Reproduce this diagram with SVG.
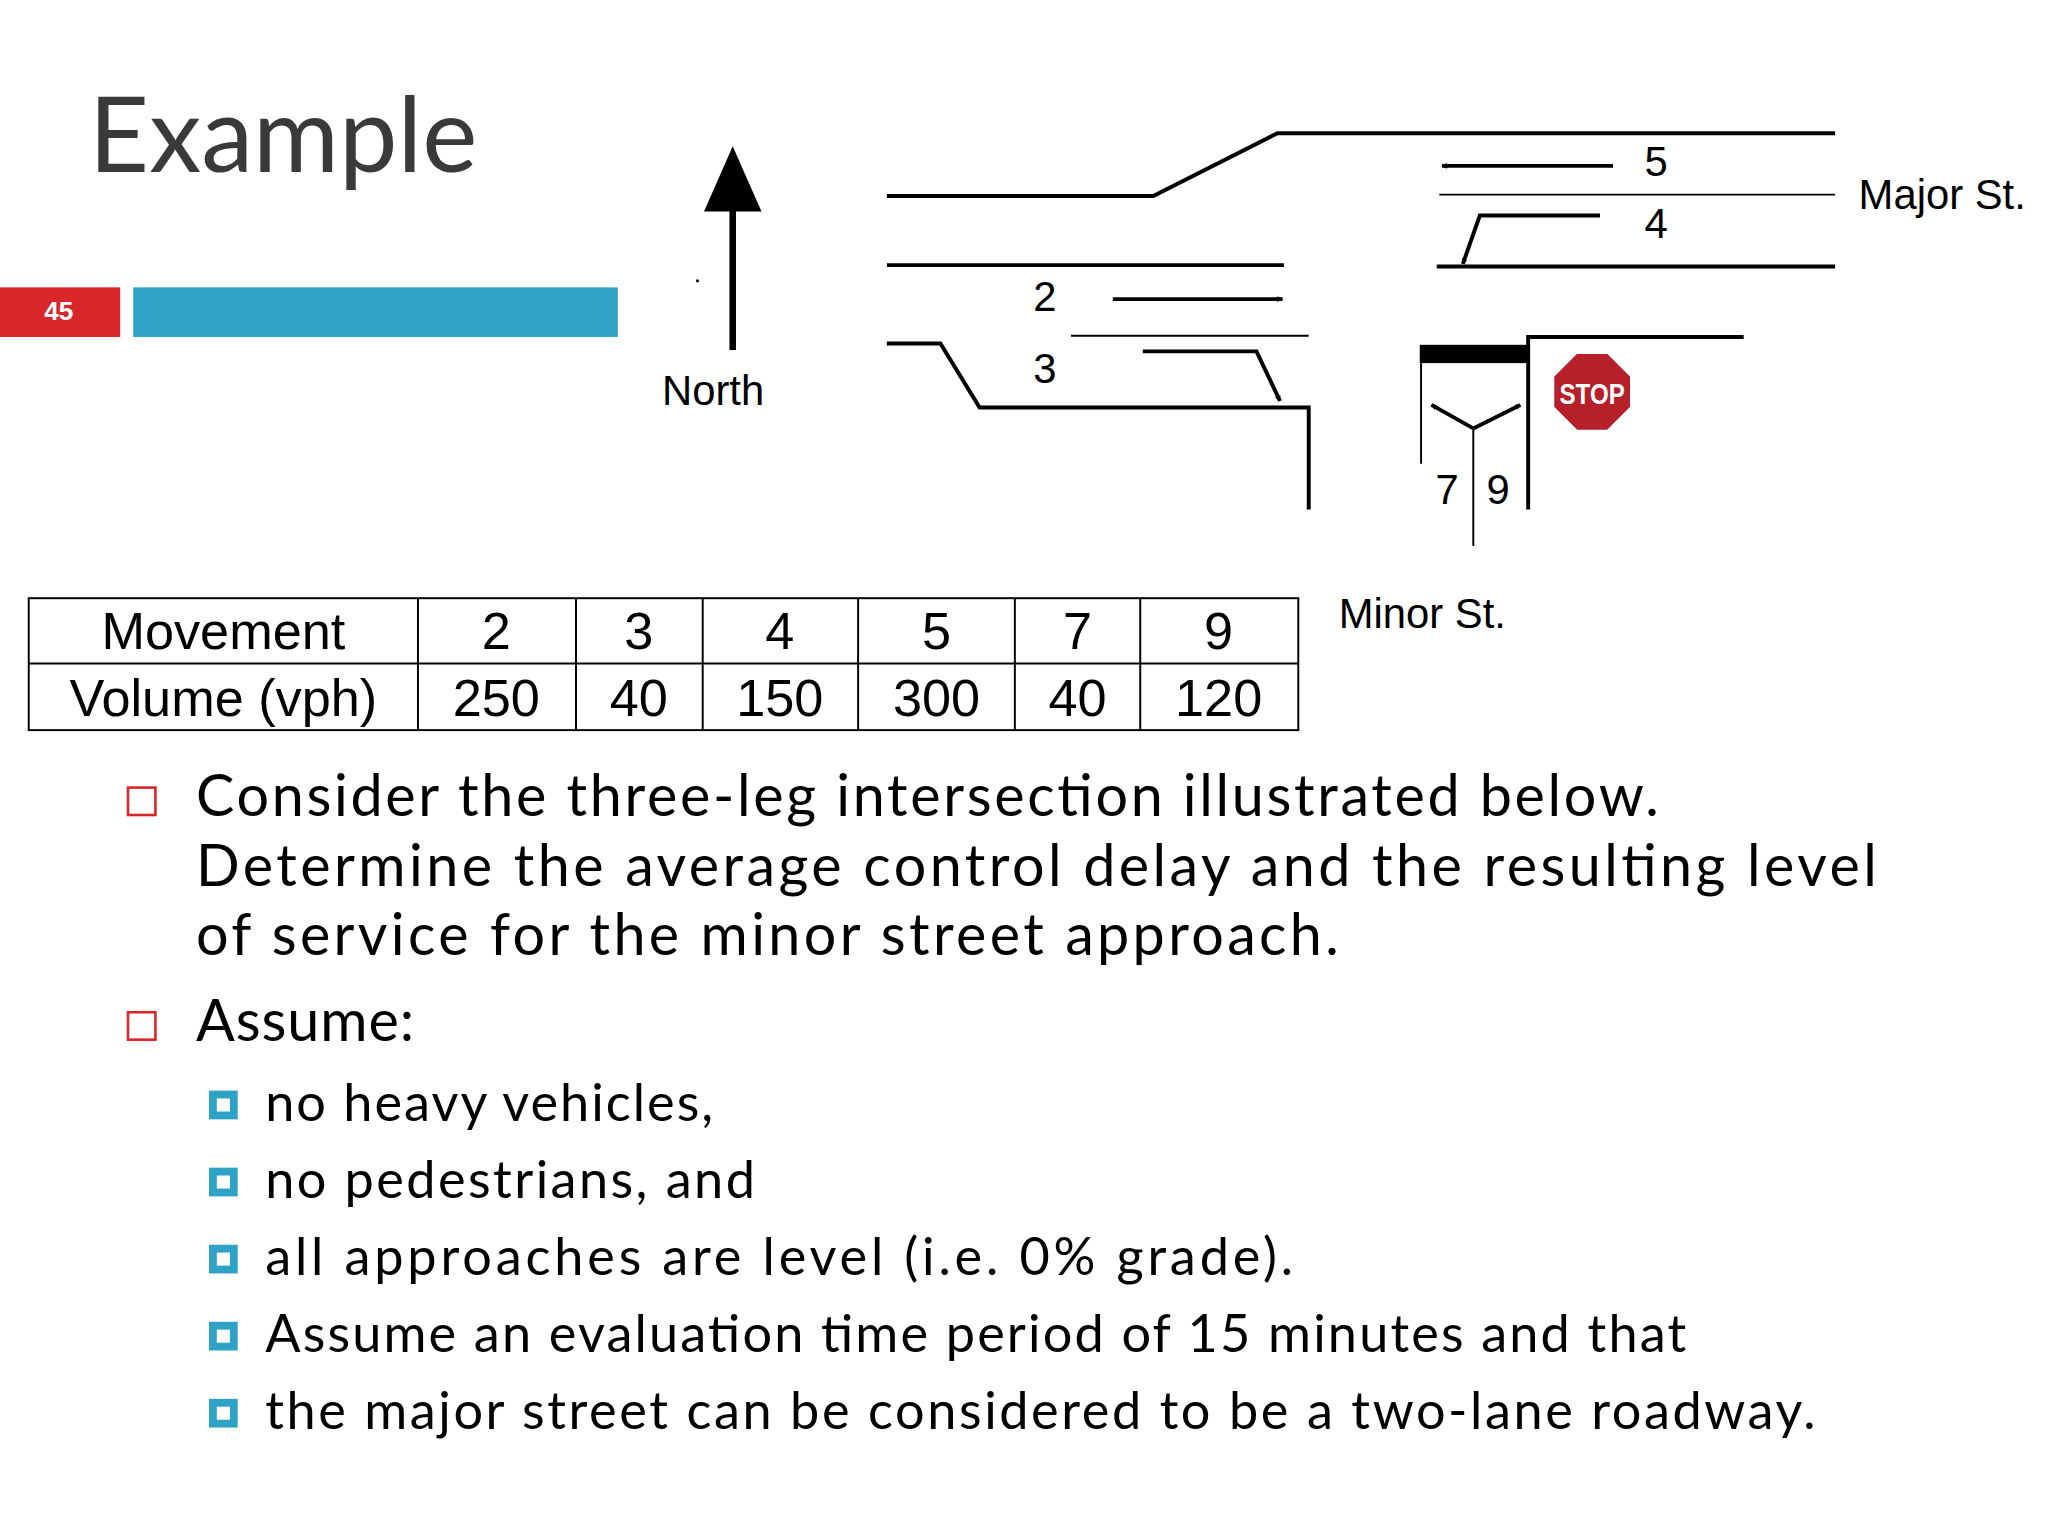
<svg xmlns="http://www.w3.org/2000/svg" width="2048" height="1536" viewBox="0 0 2048 1536">
<defs>
<marker id="ah" viewBox="0 0 10 10" refX="9" refY="5" markerWidth="4.5" markerHeight="4.5" orient="auto" markerUnits="userSpaceOnUse"><path d="M0,0L10,5L0,10z" fill="#000"/></marker>
<style>
.rd{stroke:#000;stroke-width:3;fill:none}
.th{stroke:#000;stroke-width:1.5;fill:none}
.ar{stroke:#000;stroke-width:3;fill:none}
.lb{font-family:"Liberation Sans",Arial,sans-serif;font-size:32px;fill:#000}
.tb{font-family:"Liberation Sans",Arial,sans-serif;font-size:40px;fill:#000;text-anchor:middle}
.bd{font-family:Lato,"Open Sans",sans-serif;font-size:44px;fill:#000}
.sb{font-family:Lato,"Open Sans",sans-serif;font-size:40px;fill:#000}
</style>
</defs>
<rect width="2048" height="1536" fill="#fff"/>
<g transform="scale(1.30612)">
<g id="header">
<text x="68" y="132" font-family="Lato,'Open Sans',sans-serif" font-size="80" fill="#3a3a3a">Example</text>
<rect x="0" y="220" width="92" height="38" fill="#D9262B"/>
<text x="45" y="245" font-family="'Liberation Sans',Arial,sans-serif" font-weight="bold" font-size="20" fill="#fff" text-anchor="middle">45</text>
<rect x="102" y="220" width="371" height="38" fill="#2EA3C6"/>
</g>
<g id="north">
<line x1="561" y1="158" x2="561" y2="268" stroke="#000" stroke-width="5"/>
<path d="M539,162L583,162L561,112z" fill="#000"/>
<circle cx="534" cy="215" r="1.2" fill="#000"/>
<text x="546" y="310" class="lb" font-size="40" text-anchor="middle">North</text>
</g>
<g id="roads">
<path class="rd" d="M679,150L883,150L978,102L1405,102"/>
<path class="th" d="M1102,149L1405,149"/>
<path class="rd" d="M1100,204L1405,204"/>
<path class="rd" d="M679,203L983,203" stroke="#333"/>
<path class="th" d="M820,257L1002,257"/>
<path class="rd" d="M679,263L720,263L750,312L1002,312L1002,390"/>
<path class="rd" d="M1170,390L1170,258L1335,258"/>
<rect x="1087" y="264" width="83" height="14" fill="#000"/>
<path class="th" d="M1088,278L1088,355"/>
</g>
<g id="connectors">
<path class="ar" d="M1235,127L1104,127" marker-end="url(#ah)"/>
<path class="ar" d="M1225,165L1133,165L1120,202" marker-end="url(#ah)"/>
<path class="ar" d="M852,229L982,229" marker-end="url(#ah)"/>
<path class="ar" d="M875,269L962,269L980,307" marker-end="url(#ah)"/>
<path class="th" d="M1128,418L1128,328"/>
<path class="ar" d="M1128,328L1096,310" marker-end="url(#ah)" stroke-width="2"/>
<path class="ar" d="M1128,328L1164,310" marker-end="url(#ah)" stroke-width="2"/>
</g>
<g id="labels">
<text x="1268" y="135" class="lb" text-anchor="middle">5</text>
<text x="1268" y="182" class="lb" text-anchor="middle">4</text>
<text x="800" y="238" class="lb" text-anchor="middle">2</text>
<text x="800" y="293" class="lb" text-anchor="middle">3</text>
<text x="1108" y="386" class="lb" text-anchor="middle">7</text>
<text x="1147" y="386" class="lb" text-anchor="middle">9</text>
<text x="1423" y="160" class="lb">Major St.</text>
<text x="1025" y="481" class="lb">Minor St.</text>
</g>
<g id="stop">
<polygon points="1207,270 1231,270 1249,288 1249,312 1231,330 1207,330 1189,312 1189,288" fill="#B5202A" stroke="#fff" stroke-width="2"/>
<text x="1219" y="309" font-family="'Liberation Sans',Arial,sans-serif" font-weight="bold" font-size="22" fill="#fff" text-anchor="middle" textLength="50" lengthAdjust="spacingAndGlyphs">STOP</text>
</g>
<g id="table">
<rect x="22" y="458" width="972" height="101" fill="none" stroke="#000" stroke-width="1.5"/>
<path class="th" d="M22,508L994,508M320,458V559M441,458V559M538,458V559M657,458V559M777,458V559M873,458V559"/>
<text x="171" y="497" class="tb">Movement</text>
<text x="380" y="497" class="tb">2</text>
<text x="489" y="497" class="tb">3</text>
<text x="597" y="497" class="tb">4</text>
<text x="717" y="497" class="tb">5</text>
<text x="825" y="497" class="tb">7</text>
<text x="933" y="497" class="tb">9</text>
<text x="171" y="548" class="tb">Volume (vph)</text>
<text x="380" y="548" class="tb">250</text>
<text x="489" y="548" class="tb">40</text>
<text x="597" y="548" class="tb">150</text>
<text x="717" y="548" class="tb">300</text>
<text x="825" y="548" class="tb">40</text>
<text x="933" y="548" class="tb">120</text>
</g>
<g id="bullets">
<rect x="98" y="603" width="21" height="21" fill="none" stroke="#D9262B" stroke-width="2"/>
<text x="150" y="625" class="bd" textLength="1120" lengthAdjust="spacing">Consider the three-leg intersection illustrated below.</text>
<text x="150" y="678" class="bd" textLength="1287" lengthAdjust="spacing">Determine the average control delay and the resulting level</text>
<text x="150" y="731" class="bd" textLength="875" lengthAdjust="spacing">of service for the minor street approach.</text>
<rect x="98" y="775" width="21" height="21" fill="none" stroke="#D9262B" stroke-width="2"/>
<text x="150" y="797" class="bd" textLength="167" lengthAdjust="spacing">Assume:</text>
<g fill="none" stroke="#2EA3C6" stroke-width="6">
<rect x="163" y="838" width="16" height="16"/>
<rect x="163" y="897" width="16" height="16"/>
<rect x="163" y="956" width="16" height="16"/>
<rect x="163" y="1015" width="16" height="16"/>
<rect x="163" y="1074" width="16" height="16"/>
</g>
<text x="203" y="858" class="sb" textLength="343" lengthAdjust="spacing">no heavy vehicles,</text>
<text x="203" y="917" class="sb" textLength="375" lengthAdjust="spacing">no pedestrians, and</text>
<text x="203" y="976" class="sb" textLength="787" lengthAdjust="spacing">all approaches are level (i.e. 0% grade).</text>
<text x="203" y="1035" class="sb" textLength="1088" lengthAdjust="spacing">Assume an evaluation time period of 15 minutes and that</text>
<text x="203" y="1094" class="sb" textLength="1187" lengthAdjust="spacing">the major street can be considered to be a two-lane roadway.</text>
</g>
</g>
</svg>
